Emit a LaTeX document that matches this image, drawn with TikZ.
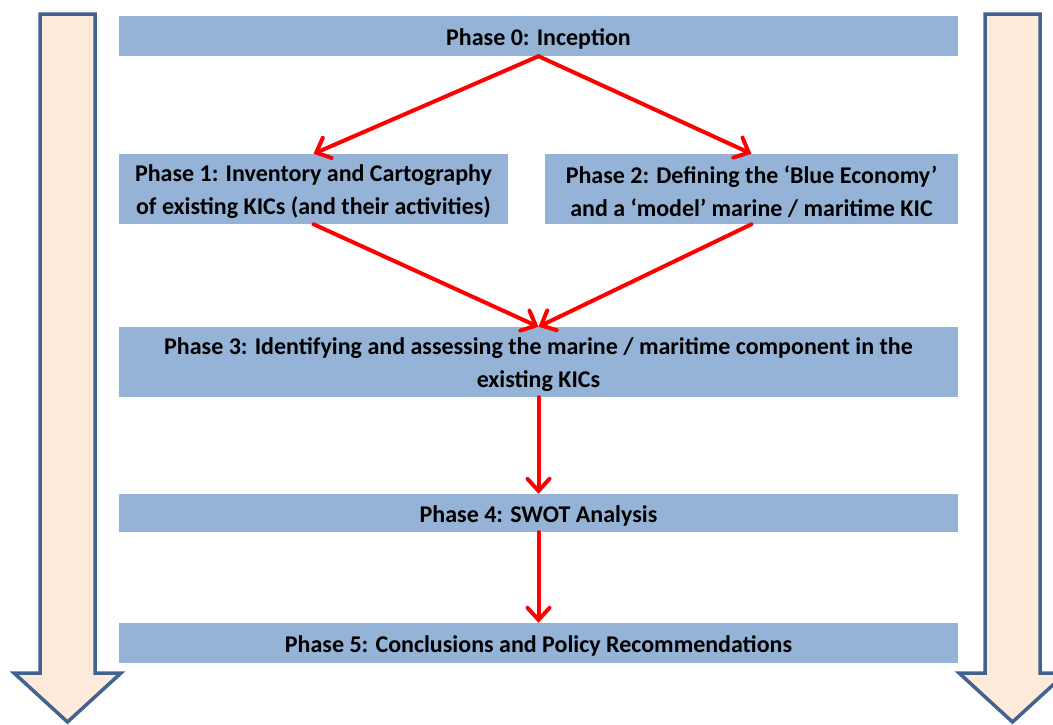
\documentclass[tikz,border=0pt]{standalone}
\usepackage{fontspec}
\setmainfont{Carlito}
\usetikzlibrary{arrows.meta}
\definecolor{boxblue}{HTML}{95B3D7}
\definecolor{peach}{HTML}{FDEADA}
\definecolor{arrowedge}{HTML}{41638F}
\begin{document}
\begin{tikzpicture}[x=1pt,y=-1pt,
  phasebox/.style={fill=boxblue, draw=none, minimum height=#1, inner sep=0pt},
  phasetext/.style={label={[yshift=-3pt, inner sep=0pt, align=center, font=\fontsize{24}{33}\selectfont\bfseries]center:#1}},
  flow/.style={draw=red, line width=4pt, line cap=round, -{Straight Barb[length=12pt,width=22pt,line cap=round]}},
  bigarrow/.style={fill=peach, draw=arrowedge, line width=3.5pt, line join=miter}]
\useasboundingbox (0,0) rectangle (1053,724);
\clip (0,0) rectangle (1053,724);
% big side arrows
\draw[bigarrow] (40,14) -- (95,14) -- (95,673) -- (121,673) -- (67.5,722) -- (14,673) -- (40,673) -- cycle;
\draw[bigarrow] (985,14) -- (1040,14) -- (1040,673) -- (1066,673) -- (1012.5,722) -- (959,673) -- (985,673) -- cycle;
% boxes
\node[phasebox=40pt, minimum width=839pt, phasetext={Phase 0: Inception}] (p0) at (538.5,36) {};
\node[phasebox=70pt, minimum width=389pt, phasetext={Phase 1: Inventory and Cartography\\of existing KICs (and their activities)}] (p1) at (313.5,189) {};
\node[phasebox=70pt, minimum width=413pt, phasetext={Phase 2: Defining the ‘Blue Economy’\\and a ‘model’ marine / maritime KIC}] (p2) at (751.5,189) {};
\node[phasebox=70pt, minimum width=839pt, phasetext={Phase 3: Identifying and assessing the marine / maritime component in the\\existing KICs}] (p3) at (538.5,362) {};
\node[phasebox=38pt, minimum width=839pt, phasetext={Phase 4: SWOT Analysis}] (p4) at (538.5,513) {};
\node[phasebox=40pt, minimum width=839pt, phasetext={Phase 5: Conclusions and Policy Recommendations}] (p5) at (538.5,643) {};
% connectors
\draw[flow] (p0.south) -- (p1.north);
\draw[flow] (p0.south) -- (p2.north);
\draw[flow] (p1.south) -- (p3.north);
\draw[flow] (p2.south) -- (p3.north);
\draw[flow] (p3.south) -- (p4.north);
\draw[flow] (p4.south) -- (p5.north);
\end{tikzpicture}
\end{document}
